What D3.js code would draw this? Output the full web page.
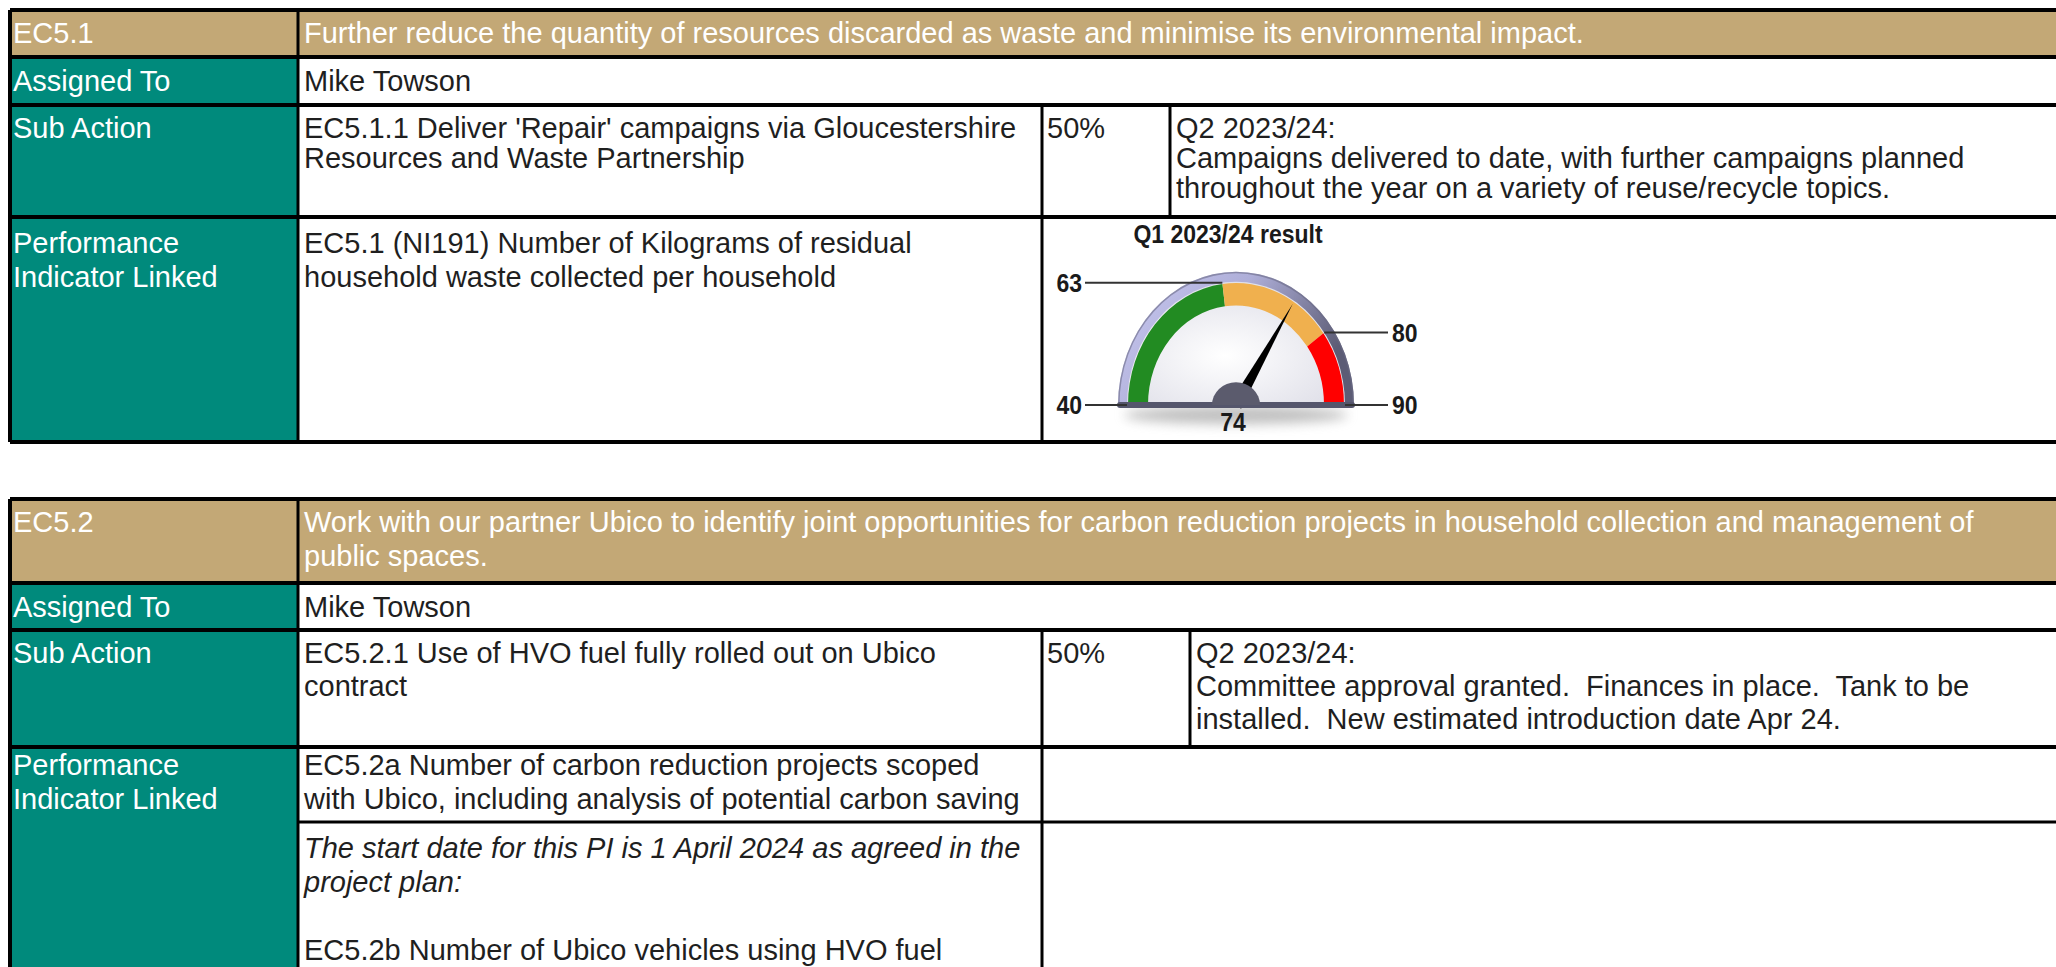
<!DOCTYPE html>
<html>
<head>
<meta charset="utf-8">
<script src="https://cdn.jsdelivr.net/npm/d3@7"></script>
<style>
  html, body { margin: 0; padding: 0; background: #fff; overflow: hidden; }
  svg { display: block; }
  text { font-family: "Liberation Sans", Arial, sans-serif; }
</style>
</head>
<body>
<svg id="chart" width="2056" height="967"></svg>
<script>
// ---- data ----
const actionIds = ["EC5.1", "EC5.2"];
const actionTitles = [
  ["Further reduce the quantity of resources discarded as waste and minimise its environmental impact."],
  ["Work with our partner Ubico to identify joint opportunities for carbon reduction projects in household collection and management of",
   "public spaces."]
];
const rowLabels = [["Assigned To"], ["Sub Action"], ["Performance", "Indicator Linked"]];
const assignedTo = ["Mike Towson", "Mike Towson"];
const subActions = [
  ["EC5.1.1 Deliver 'Repair' campaigns via Gloucestershire", "Resources and Waste Partnership"],
  ["EC5.2.1 Use of HVO fuel fully rolled out on Ubico", "contract"]
];
const subProgress = ["50%", "50%"];
const subComments = [
  ["Q2 2023/24:", "Campaigns delivered to date, with further campaigns planned", "throughout the year on a variety of reuse/recycle topics."],
  ["Q2 2023/24:", "Committee approval granted.  Finances in place.  Tank to be", "installed.  New estimated introduction date Apr 24."]
];
const indicators = [
  ["EC5.1 (NI191) Number of Kilograms of residual", "household waste collected per household"],
  ["EC5.2a Number of carbon reduction projects scoped", "with Ubico, including analysis of potential carbon saving"]
];
const indicatorNote = ["The start date for this PI is 1 April 2024 as agreed in the", "project plan:", "", "EC5.2b Number of Ubico vehicles using HVO fuel"];
const indicatorNoteItalic = [true, true, false, false];

// gauge (Q1 result for EC5.1)
const gaugeTitle = "Q1 2023/24 result";
const gaugeBreaks = [40, 63, 80, 90];
const gaugeColors = ["#228b22", "#f0b04e", "#ff0000"];
const gaugeValue = 74;

// ---- layout ----
const svg = d3.select("#chart");
const RIGHT = 2070;
const TAN = "#c3a876", TEAL = "#008a7c", INK = "#1f1f1f";
const FS = 29;
const colX = [10, 298, 1042];
const tableRows = [[10, 57, 105, 217, 442], [499, 583, 630, 747, 990]];
const splitX = [1170, 1190];
const noteY = [null, 822];
const subLH = [30, 33];     // line spacing in the sub action row
const piTop = [36, 28];     // first baseline offset in the indicator row

function writeLines(x, y, lines, color, lh, italics) {
  const t = svg.append("text")
    .attr("fill", color)
    .attr("font-size", FS)
    .style("white-space", "pre");
  lines.forEach((s, i) => {
    t.append("tspan")
      .attr("x", x)
      .attr("y", y + i * (lh || 33))
      .attr("font-style", italics && italics[i] ? "italic" : null)
      .text(s);
  });
}

function line(x1, y1, x2, y2, w) {
  svg.append("line")
    .attr("x1", x1).attr("y1", y1).attr("x2", x2).attr("y2", y2)
    .attr("stroke", "#000").attr("stroke-width", w || 3);
}

actionIds.forEach((id, i) => {
  const rows = tableRows[i];
  const last = rows[rows.length - 1];

  // cell fills
  svg.append("rect").attr("x", colX[0]).attr("y", rows[0])
    .attr("width", RIGHT - colX[0]).attr("height", rows[1] - rows[0]).attr("fill", TAN);
  svg.append("rect").attr("x", colX[0]).attr("y", rows[1])
    .attr("width", colX[1] - colX[0]).attr("height", last - rows[1]).attr("fill", TEAL);

  // grid
  rows.forEach(y => line(colX[0], y, RIGHT, y, 4));
  if (noteY[i]) line(colX[1], noteY[i], RIGHT, noteY[i]);
  line(colX[0], rows[0], colX[0], last, 4);
  line(colX[1], rows[0], colX[1], last);
  line(colX[2], rows[2], colX[2], last);
  line(splitX[i], rows[2], splitX[i], rows[3]);

  // texts
  writeLines(13, rows[0] + 33, [id], "#fff");
  writeLines(304, rows[0] + 33, actionTitles[i], "#fff", 34);
  writeLines(13, rows[1] + 34, rowLabels[0], "#fff");
  writeLines(304, rows[1] + 34, [assignedTo[i]], INK);
  writeLines(13, rows[2] + 33, rowLabels[1], "#fff");
  writeLines(304, rows[2] + 33, subActions[i], INK, subLH[i]);
  writeLines(colX[2] + 5, rows[2] + 33, [subProgress[i]], INK);
  writeLines(splitX[i] + 6, rows[2] + 33, subComments[i], INK, subLH[i]);
  writeLines(13, rows[3] + piTop[i], rowLabels[2], "#fff", 34);
  writeLines(304, rows[3] + piTop[i], indicators[i], INK, 34);
  if (noteY[i]) writeLines(304, noteY[i] + 36, indicatorNote, INK, 34, indicatorNoteItalic);
});

// ---- gauge ----
const cx = 1236, cy = 405, SY = 1.13;
const rIn = 88, rOut = 109, rFrame = 118;
const ang = d3.scaleLinear().domain([gaugeBreaks[0], gaugeBreaks[gaugeBreaks.length - 1]])
  .range([-Math.PI / 2, Math.PI / 2]);

const defs = svg.append("defs");
const fg = defs.append("linearGradient").attr("id", "frameGrad")
  .attr("x1", 0).attr("y1", 0).attr("x2", 1).attr("y2", 0.4);
fg.append("stop").attr("offset", 0).attr("stop-color", "#cacaf2");
fg.append("stop").attr("offset", 0.5).attr("stop-color", "#aeaed8");
fg.append("stop").attr("offset", 1).attr("stop-color", "#5c5c75");
const face = defs.append("radialGradient").attr("id", "faceGrad")
  .attr("cx", 0.45).attr("cy", 0.6).attr("r", 0.6);
face.append("stop").attr("offset", 0).attr("stop-color", "#ffffff");
face.append("stop").attr("offset", 1).attr("stop-color", "#e0e0e9");
defs.append("filter").attr("id", "blur").attr("x", -0.2).attr("y", -1).attr("width", 1.4).attr("height", 3)
  .append("feGaussianBlur").attr("stdDeviation", 6);

// shadow under the dial
svg.append("ellipse").attr("cx", cx).attr("cy", cy + 10).attr("rx", 112).attr("ry", 9)
  .attr("fill", "#8a8a8a").attr("opacity", 0.55).attr("filter", "url(#blur)");

const dial = svg.append("g").attr("transform", `translate(${cx},${cy}) scale(1,${SY})`);
const arc = d3.arc();

dial.append("path")
  .attr("d", arc({ innerRadius: rOut - 1, outerRadius: rFrame, startAngle: -Math.PI / 2, endAngle: Math.PI / 2 }))
  .attr("fill", "url(#frameGrad)");
dial.append("path")
  .attr("d", arc({ innerRadius: rFrame - 1.5, outerRadius: rFrame, startAngle: -Math.PI / 2, endAngle: Math.PI / 2 }))
  .attr("fill", "#6a6a86").attr("opacity", 0.6);
dial.append("path")
  .attr("d", arc({ innerRadius: 0, outerRadius: rOut, startAngle: -Math.PI / 2, endAngle: Math.PI / 2 }))
  .attr("fill", "url(#faceGrad)");

dial.selectAll("path.band")
  .data(gaugeColors)
  .enter().append("path")
  .attr("class", "band")
  .attr("d", (c, k) => arc({
    innerRadius: rIn, outerRadius: rOut - 1,
    startAngle: ang(gaugeBreaks[k]), endAngle: ang(gaugeBreaks[k + 1])
  }))
  .attr("fill", c => c);

// needle
const a = ang(gaugeValue), nl = 106, nw = 6;
dial.append("path")
  .attr("d", d3.line()([
    [nl * Math.sin(a), -nl * Math.cos(a)],
    [nw * Math.cos(a), nw * Math.sin(a)],
    [-nw * Math.cos(a), -nw * Math.sin(a)]
  ]) + "Z")
  .attr("fill", "#000");

// base bar and hub
svg.append("rect").attr("x", cx - rFrame - 1).attr("y", cy - 3).attr("width", 2 * rFrame + 2).attr("height", 6)
  .attr("rx", 3).attr("fill", "#55566c");
svg.append("path")
  .attr("transform", `translate(${cx},${cy}) scale(1,0.95)`)
  .attr("d", arc({ innerRadius: 0, outerRadius: 24, startAngle: -Math.PI / 2, endAngle: Math.PI / 2 }))
  .attr("fill", "#5b5b6d");

// gauge texts are stretched vertically like the dial
function gaugeText(x, y, s, anchor) {
  svg.append("text")
    .attr("transform", `translate(${x},${y}) scale(1,${SY})`)
    .attr("text-anchor", anchor)
    .attr("font-weight", "bold").attr("font-size", 23)
    .attr("fill", "#1a1a1a")
    .text(s);
}

// tick lines + labels
const leftX = 1085, rightX = 1388;
gaugeBreaks.forEach(v => {
  const t = ang(v);
  const px = cx + rOut * Math.sin(t);
  const py = cy - rOut * Math.cos(t) * SY;
  const left = v < d3.mean(ang.domain());
  svg.append("line")
    .attr("x1", px).attr("y1", py).attr("x2", left ? leftX : rightX).attr("y2", py)
    .attr("stroke", "#333").attr("stroke-width", 2);
  gaugeText(left ? leftX - 3 : rightX + 4, py + 9, v, left ? "end" : "start");
});

gaugeText(cx - 8, 243, gaugeTitle, "middle");
gaugeText(cx - 3, 431, gaugeValue, "middle");
</script>
</body>
</html>
